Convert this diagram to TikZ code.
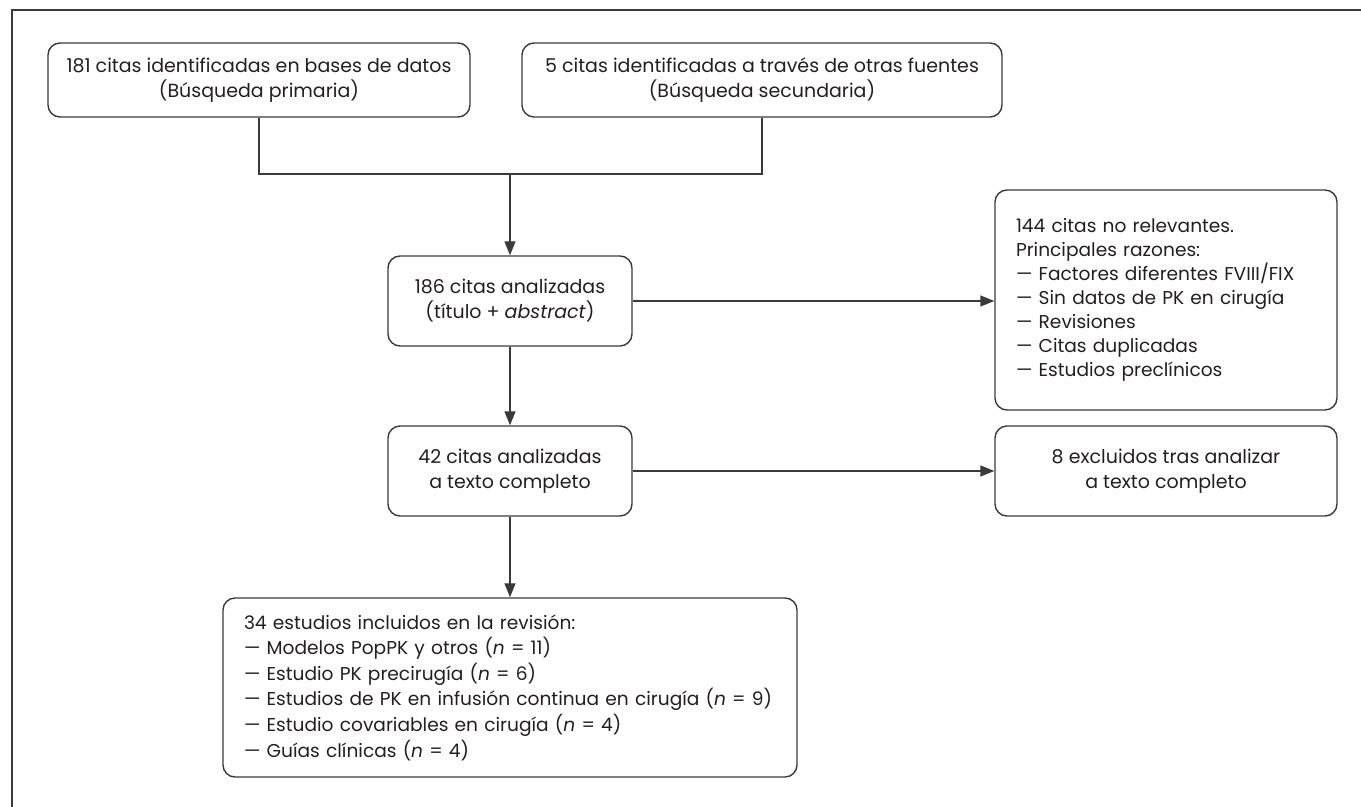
\documentclass[tikz,border=0pt]{standalone}
\usepackage{fontspec}
\setmainfont{Poppins}
\usepackage{xcolor}
\usetikzlibrary{arrows.meta,positioning,calc}
\definecolor{flink}{HTML}{3A3A3A}
\definecolor{ftext}{HTML}{231F20}
\begin{document}
\begin{tikzpicture}[x=0.5pt,y=-0.5pt,font=\fontsize{9.5}{12.5}\selectfont,text=ftext,
  n/.style={rectangle,rounded corners=6pt,draw=flink,line width=0.7pt,align=center,inner sep=0pt},
  nl/.style={n,align=left,inner xsep=13pt},
  ar/.style={-{Triangle[length=7pt,width=5.5pt]},line width=0.7pt,flink}]
  \useasboundingbox (0,0) rectangle (1361,807);
  \draw[line width=1.3pt,flink] (12,807) -- (12,10) -- (1361,10);
  \node[n,minimum width=211pt,minimum height=37pt] (b181) at (259,80)
    {181 citas identificadas en bases de datos\\(Búsqueda primaria)};
  \node[n,minimum width=240pt,minimum height=37pt] (b5) at (762,80)
    {5 citas identificadas a través de otras fuentes\\(Búsqueda secundaria)};
  \node[n,minimum width=122pt,minimum height=45pt] (b186) at (510,301)
    {186 citas analizadas\\(título + \emph{abstract})};
  \node[nl,text width=150pt,inner xsep=10.5pt,minimum height=110pt,font=\fontsize{9.3}{12}\selectfont] (b144) at (1166,300)
    {144 citas no relevantes.\\Principales razones:\\— Factores diferentes FVIII/FIX\\— Sin datos de PK en cirugía\\— Revisiones\\— Citas duplicadas\\— Estudios preclínicos};
  \node[n,minimum width=122pt,minimum height=45pt] (b42) at (510,471)
    {42 citas analizadas\\a texto completo};
  \node[n,minimum width=171pt,minimum height=45pt] (b8) at (1166,471)
    {8 excluidos tras analizar\\a texto completo};
  \node[nl,text width=266pt,inner xsep=10.5pt,minimum height=89.5pt,font=\fontsize{9.3}{12.8}\selectfont] (b34) at (510,687.5)
    {34 estudios incluidos en la revisión:\\— Modelos PopPK y otros (\emph{n} = 11)\\— Estudio PK precirugía (\emph{n} = 6)\\— Estudios de PK en infusión continua en cirugía (\emph{n} = 9)\\— Estudio covariables en cirugía (\emph{n} = 4)\\— Guías clínicas (\emph{n} = 4)};
  \coordinate (join) at (510,174);
  \draw[line width=0.7pt,flink] (b181.south) |- (join) -| (b5.south);
  \draw[ar] (join) -- (b186.north);
  \draw[ar] (b186.east) -- (b186.east -| b144.west);
  \draw[ar] (b186.south) -- (b42.north);
  \draw[ar] (b42.east) -- (b8.west);
  \draw[ar] (b42.south) -- (b34.north);
\end{tikzpicture}
\end{document}
